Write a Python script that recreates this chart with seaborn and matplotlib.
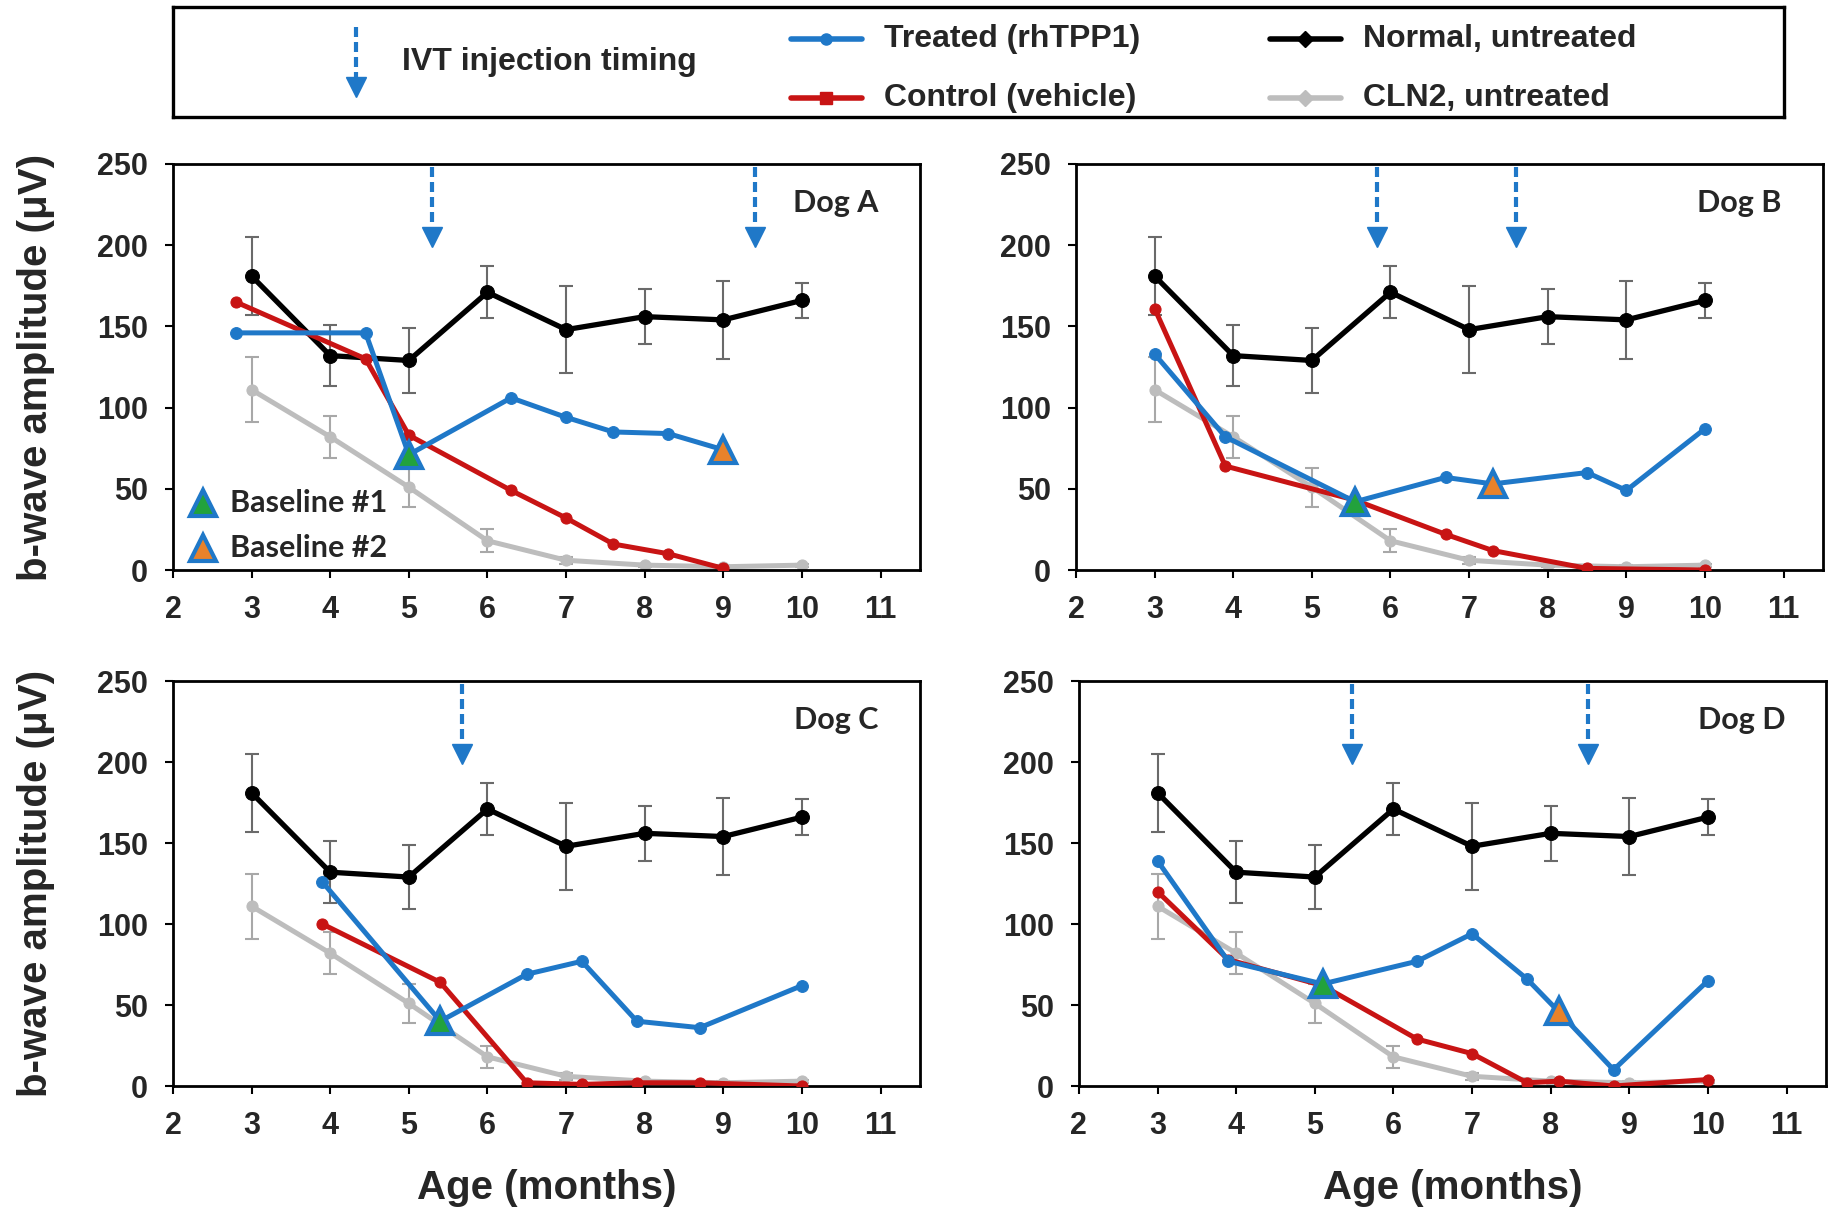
import numpy as np
import pandas as pd
import matplotlib
matplotlib.use("Agg")
import matplotlib.pyplot as plt
import seaborn as sns

# ---------------- data ----------------
age_ref = [3, 4, 5, 6, 7, 8, 9, 10]
normal_mean = [181, 132, 129, 171, 148, 156, 154, 166]
normal_sd = [24, 19, 20, 16, 27, 17, 24, 11]
cln2_mean = [111, 82, 51, 18, 6, 3, 2, 3]
cln2_sd = [20, 13, 12, 7, 2, 1, 1, 1]

# Dog A
a_age = [2.8, 4.45, 5.0, 6.3, 7.0, 7.6, 8.3, 9.0]
a_treated = [146, 146, 71, 106, 94, 85, 84, 74]
a_ctrl_age = [2.8, 4.45, 5.0, 6.3, 7.0, 7.6, 8.3, 9.0]
a_control = [165, 130, 83, 49, 32, 16, 10, 1]
a_baseline_idx = [2, 7]
a_inject = [5.3, 9.4]

# Dog B
b_age = [3.0, 3.9, 5.55, 6.7, 7.3, 8.5, 9.0, 10.0]
b_treated = [133, 82, 42, 57, 53, 60, 49, 87]
b_ctrl_age = [3.0, 3.9, 5.55, 6.7, 7.3, 8.5, 10.0]
b_control = [161, 64, 43, 22, 12, 1, 0]
b_baseline_idx = [2, 4]
b_inject = [5.83, 7.6]

# Dog C
c_age = [3.9, 5.4, 6.5, 7.2, 7.9, 8.7, 10.0]
c_treated = [126, 40, 69, 77, 40, 36, 62]
c_ctrl_age = [3.9, 5.4, 6.5, 7.2, 7.9, 8.7, 10.0]
c_control = [100, 64, 2, 1, 2, 2, 0]
c_baseline_idx = [1]
c_inject = [5.67]

# Dog D
d_age = [3.0, 3.9, 5.1, 6.3, 7.0, 7.7, 8.1, 8.8, 10.0]
d_treated = [139, 77, 63, 77, 94, 66, 46, 10, 65]
d_ctrl_age = [3.0, 3.9, 5.1, 6.3, 7.0, 7.7, 8.1, 8.8, 10.0]
d_control = [120, 78, 62, 29, 20, 2, 3, 0, 4]
d_baseline_idx = [2, 6]
d_inject = [5.47, 8.47]

dog_names = ["Dog A", "Dog B", "Dog C", "Dog D"]
x_ticks = [2, 3, 4, 5, 6, 7, 8, 9, 10, 11]
y_ticks = [0, 50, 100, 150, 200, 250]

legend_labels = ["IVT injection timing", "Treated (rhTPP1)", "Control (vehicle)",
                 "Normal, untreated", "CLN2, untreated"]
baseline_labels = ["Baseline #1", "Baseline #2"]
ylabel_text = "b-wave amplitude (\u03bcV)"
xlabel_text = "Age (months)"

# ---------------- style ----------------
BLUE = "#1f78c8"
RED = "#c81414"
GRAY = "#bdbdbd"
GRAY_ERR = "#a8a8a8"
BLACK_ERR = "#6a6a6a"
GREEN = "#22a23c"
ORANGE = "#e8822a"

sns.set_theme(style="ticks")
plt.rcParams["font.family"] = ["Liberation Sans", "DejaVu Sans"]
plt.rcParams["font.weight"] = "bold"
plt.rcParams["axes.labelweight"] = "bold"

fig = plt.figure(figsize=(18.38, 12.19), dpi=100)

panel_pos = [
    [0.0941, 0.5324, 0.4064, 0.3331],
    [0.5854, 0.5324, 0.4064, 0.3331],
    [0.0941, 0.1091, 0.4064, 0.3322],
    [0.5870, 0.1091, 0.4064, 0.3322],
]

dogs = [
    dict(age=a_age, tr=a_treated, cage=a_ctrl_age, ct=a_control, base=a_baseline_idx, inj=a_inject),
    dict(age=b_age, tr=b_treated, cage=b_ctrl_age, ct=b_control, base=b_baseline_idx, inj=b_inject),
    dict(age=c_age, tr=c_treated, cage=c_ctrl_age, ct=c_control, base=c_baseline_idx, inj=c_inject),
    dict(age=d_age, tr=d_treated, cage=d_ctrl_age, ct=d_control, base=d_baseline_idx, inj=d_inject),
]
base_fill = [GREEN, ORANGE]


def draw_arrow(ax, x, y_top, y_shaft_end, y_head, ms=14):
    ax.plot([x, x], [y_top, y_shaft_end], color=BLUE, lw=3,
            ls=(0, (2.4, 1.2)), solid_capstyle="butt", zorder=8)
    ax.plot([x], [y_head], marker="v", ms=ms, color=BLUE, mec=BLUE, ls="none", zorder=8)


for i, (pos, dog) in enumerate(zip(panel_pos, dogs)):
    ax = fig.add_axes(pos)
    # CLN2 untreated
    ax.errorbar(age_ref, cln2_mean, yerr=cln2_sd, fmt="none", ecolor=GRAY_ERR,
                elinewidth=1.5, capsize=5, capthick=1.5, zorder=1)
    sns.lineplot(x=age_ref, y=cln2_mean, ax=ax, color=GRAY, lw=3.6, marker="o",
                 markersize=8, markeredgecolor=GRAY, errorbar=None, legend=False, zorder=2)
    # Normal untreated
    ax.errorbar(age_ref, normal_mean, yerr=normal_sd, fmt="none", ecolor=BLACK_ERR,
                elinewidth=1.5, capsize=5, capthick=1.5, zorder=3)
    sns.lineplot(x=age_ref, y=normal_mean, ax=ax, color="black", lw=3.8, marker="o",
                 markersize=10, markeredgecolor="black", errorbar=None, legend=False, zorder=4)
    # Control
    sns.lineplot(x=dog["cage"], y=dog["ct"], ax=ax, color=RED, lw=3.6, marker="o",
                 markersize=8, markeredgecolor=RED, errorbar=None, legend=False, zorder=5)
    # Treated
    sns.lineplot(x=dog["age"], y=dog["tr"], ax=ax, color=BLUE, lw=3.6, marker="o",
                 markersize=8.5, markeredgecolor=BLUE, errorbar=None, legend=False, zorder=6)
    # Baseline triangles
    for k, idx in enumerate(dog["base"]):
        ax.plot([dog["age"][idx]], [dog["tr"][idx]], marker="^", ms=19,
                mfc=base_fill[k], mec=BLUE, mew=3, ls="none", zorder=7)
    # injection arrows
    for xi in dog["inj"]:
        draw_arrow(ax, xi, 248, 211, 205)

    ax.text(10.43, 226, dog_names[i], ha="center", va="center", fontsize=22,
            fontweight="bold", family=["Lato", "DejaVu Sans"], zorder=9)

    ax.set_xlim(2, 11.5)
    ax.set_ylim(0, 250)
    ax.set_xticks(x_ticks)
    ax.set_yticks(y_ticks)
    ax.tick_params(axis="both", direction="out", length=6, width=1.5, labelsize=22,
                   color="black", pad=12)
    for lab in ax.get_xticklabels() + ax.get_yticklabels():
        lab.set_fontweight("bold")
    for s in ax.spines.values():
        s.set_linewidth(2)
        s.set_color("black")
    ax.set_xlabel("")
    ax.set_ylabel("")
    if i in (0, 2):
        ax.set_ylabel(ylabel_text, fontsize=29, fontweight="bold", labelpad=30)
    if i in (2, 3):
        ax.set_xlabel(xlabel_text, fontsize=29, fontweight="bold", labelpad=20)

    if i == 0:
        for k, lab in enumerate(baseline_labels):
            yy = [0.166, 0.054][k]
            ax.plot([0.040], [yy], marker="^", ms=19, mfc=base_fill[k], mec=BLUE, mew=3,
                    ls="none", transform=ax.transAxes, zorder=9)
            ax.text(0.076, yy, lab, transform=ax.transAxes, ha="left", va="center",
                    fontsize=22, fontweight="bold", family=["Lato", "DejaVu Sans"], zorder=9)

# ---------------- top legend box ----------------
lax = fig.add_axes([0.0941, 0.904, 0.8765, 0.0902])
lax.set_xlim(0, 1)
lax.set_ylim(0, 1)
lax.set_xticks([])
lax.set_yticks([])
for s in lax.spines.values():
    s.set_linewidth(2.4)
    s.set_color("black")

draw_arrow(lax, 0.1136, 0.82, 0.36, 0.27)
lax.text(0.142, 0.50, legend_labels[0], ha="left", va="center", fontsize=23, fontweight="bold")

leg_items = [
    (0.3836, 0.709, BLUE, "o", legend_labels[1]),
    (0.3836, 0.173, RED, "s", legend_labels[2]),
    (0.681, 0.709, "black", "D", legend_labels[3]),
    (0.681, 0.173, GRAY, "D", legend_labels[4]),
]
for x0, yy, col, mk, lab in leg_items:
    lax.plot([x0, x0 + 0.044], [yy, yy], color=col, lw=4)
    lax.plot([x0 + 0.022], [yy], marker=mk, ms=8, color=col, mec=col, ls="none")
    lax.text(x0 + 0.058, yy, lab, ha="left", va="center", fontsize=23, fontweight="bold")

fig.savefig("out.png", dpi=100)
